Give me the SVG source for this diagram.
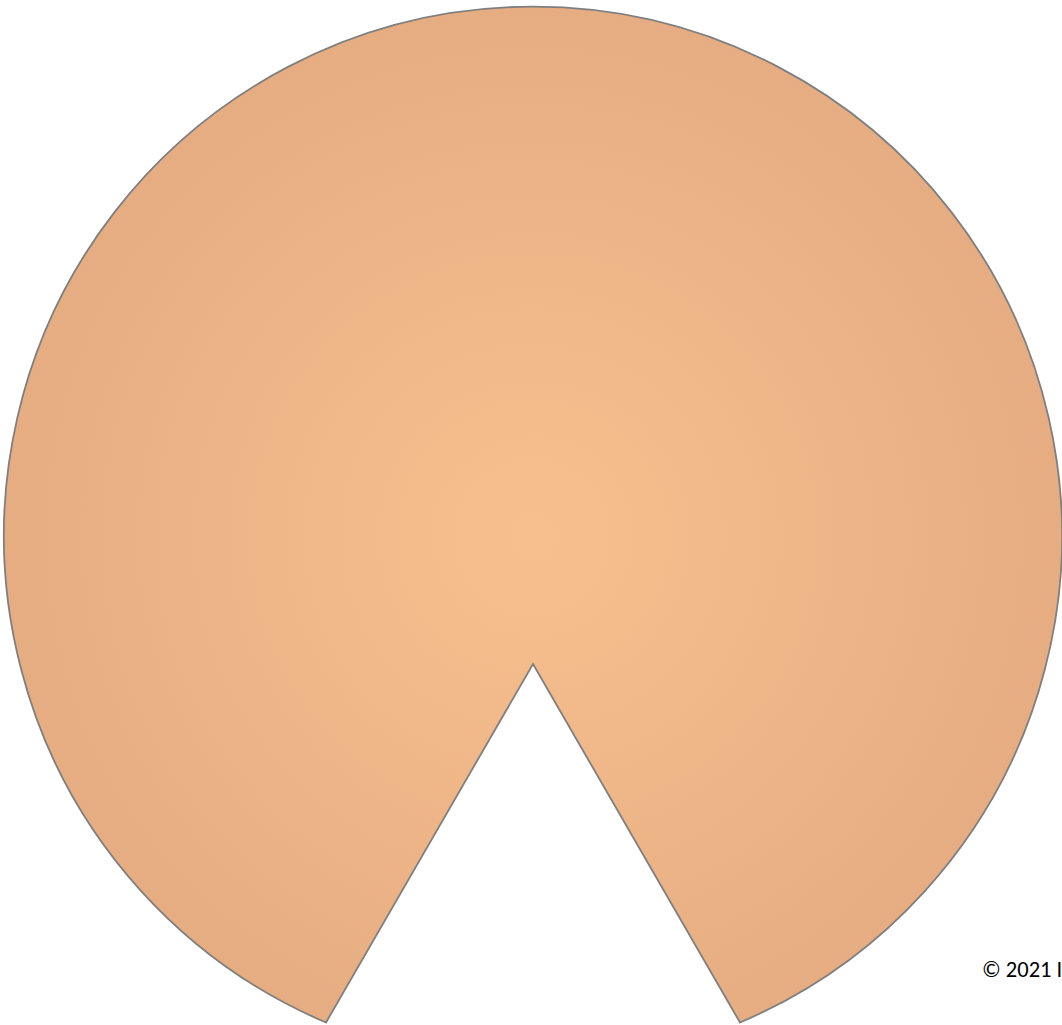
<svg xmlns="http://www.w3.org/2000/svg" width="1062" height="1025" viewBox="0 0 1062 1025">
  <defs>
    <radialGradient id="fillGrad" gradientUnits="userSpaceOnUse" cx="533" cy="537" r="529">
      <stop offset="0" stop-color="#F8BF8E"/>
      <stop offset="1" stop-color="#E6AD82"/>
    </radialGradient>
    <style>
      .pie { fill: url(#fillGrad); stroke: #7F7F7F; stroke-width: 1.8; stroke-linejoin: miter; }
      .copy { font-family: Carlito, "Open Sans", "Liberation Sans", sans-serif; font-size: 22.5px; fill: #000000; }
    </style>
  </defs>
  <rect x="0" y="0" width="1062" height="1025" fill="#FFFFFF"/>
  <g id="shape">
    <path class="pie" d="M 533 664 L 740 1022.5 A 529 529 0 1 0 326 1022.5 Z"/>
  </g>
  <g id="copyright">
    <text class="copy" x="982" y="977">© 2021 I</text>
  </g>
</svg>
